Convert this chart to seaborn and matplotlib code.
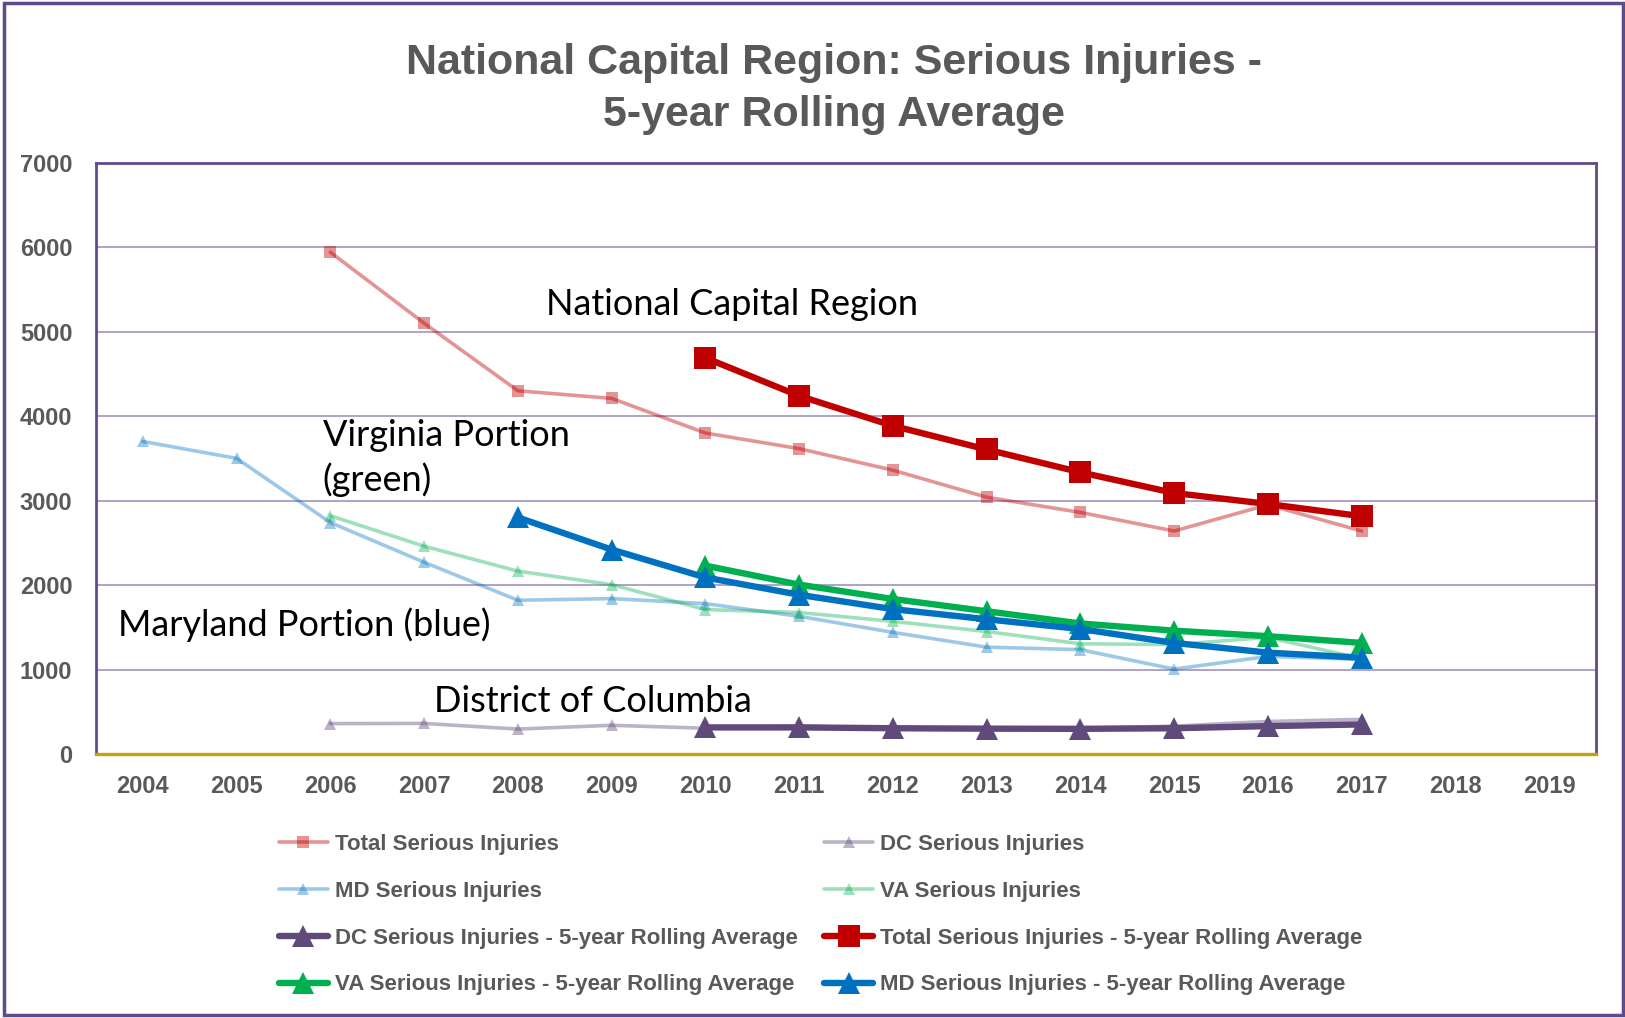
import matplotlib
matplotlib.use("Agg")
import matplotlib.pyplot as plt
import seaborn as sns
import pandas as pd
from matplotlib.patches import Rectangle

# ---------------- data ----------------
year_ticks = list(range(2004, 2020))
y_ticks = [0, 1000, 2000, 3000, 4000, 5000, 6000, 7000]

years_total_raw = list(range(2006, 2018))
total_raw = [5940, 5100, 4300, 4210, 3800, 3615, 3360, 3040, 2860, 2640, 2950, 2640]

years_md_raw = list(range(2004, 2018))
md_raw = [3700, 3500, 2740, 2270, 1820, 1840, 1780, 1630, 1440, 1265, 1235, 1005, 1155, 1120]

years_va_raw = list(range(2006, 2018))
va_raw = [2820, 2460, 2165, 2005, 1710, 1675, 1570, 1450, 1305, 1295, 1380, 1130]

years_dc_raw = list(range(2006, 2018))
dc_raw = [360, 362, 295, 340, 305, 330, 305, 300, 305, 330, 385, 410]

years_avg = list(range(2010, 2018))
total_avg = [4690, 4240, 3885, 3605, 3335, 3090, 2960, 2815]
va_avg = [2230, 2005, 1835, 1690, 1545, 1460, 1395, 1315]
dc_avg = [315, 315, 305, 300, 298, 305, 330, 350]

years_md_avg = list(range(2008, 2018))
md_avg = [2800, 2420, 2090, 1885, 1715, 1595, 1480, 1315, 1200, 1140]

lbl_total = "Total Serious Injuries"
lbl_dc = "DC Serious Injuries"
lbl_md = "MD Serious Injuries"
lbl_va = "VA Serious Injuries"
lbl_dc_avg = "DC Serious Injuries - 5-year Rolling Average"
lbl_total_avg = "Total Serious Injuries - 5-year Rolling Average"
lbl_va_avg = "VA Serious Injuries - 5-year Rolling Average"
lbl_md_avg = "MD Serious Injuries - 5-year Rolling Average"

title_line1 = "National Capital Region: Serious Injuries -"
title_line2 = "5-year Rolling Average"

ann_ncr = "National Capital Region"
ann_va1 = "Virginia Portion"
ann_va2 = "(green)"
ann_md = "Maryland Portion (blue)"
ann_dc = "District of Columbia"

# ---------------- style ----------------
sns.set_theme(style="white")
plt.rcParams["font.family"] = ["Liberation Sans", "DejaVu Sans"]
TICKFONT = ["Liberation Sans", "DejaVu Sans"]
GRAY = "#595959"
PURPLE = "#5F4B8B"
GRID = "#A99BC0"
GOLD = "#C9A00A"

C_TOTAL = "#C00000"
C_MD = "#0070C0"
C_VA = "#00B050"
C_DC = "#604A7B"

fig = plt.figure(figsize=(16.25, 10.18), dpi=100)
ax = fig.add_axes([96 / 1625, 1 - 754 / 1018, 1500 / 1625, (754 - 162.7) / 1018])

def draw(xs, ys, color, marker, ms, lw, alpha, label, z):
    df = pd.DataFrame({"year": xs, "value": ys})
    sns.lineplot(data=df, x="year", y="value", ax=ax, color=color, marker=marker,
                 markersize=ms, linewidth=lw, alpha=alpha, label=label,
                 markeredgecolor=color, markeredgewidth=0, errorbar=None,
                 zorder=z)

# raw series
draw(years_total_raw, total_raw, C_TOTAL, "s", 9, 2.6, 0.42, lbl_total, 2)
draw(years_dc_raw, dc_raw, C_DC, "^", 9, 2.6, 0.42, lbl_dc, 2)
draw(years_md_raw, md_raw, C_MD, "^", 9, 2.6, 0.38, lbl_md, 2)
draw(years_va_raw, va_raw, C_VA, "^", 9, 2.6, 0.38, lbl_va, 2)
# averages
draw(years_avg, dc_avg, C_DC, "^", 16, 4.6, 1.0, lbl_dc_avg, 3)
draw(years_avg, total_avg, C_TOTAL, "s", 16, 4.6, 1.0, lbl_total_avg, 3)
draw(years_avg, va_avg, C_VA, "^", 16, 4.6, 1.0, lbl_va_avg, 3)
draw(years_md_avg, md_avg, C_MD, "^", 16, 4.6, 1.0, lbl_md_avg, 4)

ax.set_xlim(2003.5, 2019.5)
ax.set_ylim(0, 7000)
ax.set_xticks(year_ticks)
ax.set_xticklabels([str(y) for y in year_ticks])
ax.set_yticks(y_ticks)
ax.set_yticklabels([str(v) for v in y_ticks])
ax.set_xlabel("")
ax.set_ylabel("")
ax.tick_params(axis="both", length=0, labelcolor=GRAY)
ax.tick_params(axis="y", pad=17)
ax.tick_params(axis="x", pad=15)
for lab in ax.get_xticklabels() + ax.get_yticklabels():
    lab.set_family(TICKFONT)
    lab.set_fontsize(17)
    lab.set_fontweight("bold")

ax.yaxis.grid(True, color=GRID, linewidth=1.3)
ax.set_axisbelow(True)
for s in ["left", "top", "right"]:
    ax.spines[s].set_color(PURPLE)
    ax.spines[s].set_linewidth(2.0)
ax.spines["bottom"].set_color(GOLD)
ax.spines["bottom"].set_linewidth(2.4)

# annotations
ann_font = ["Lato", "DejaVu Sans"]
AFS = 26
ax.text(2008.3, 5320, ann_ncr, fontsize=AFS, family=ann_font,
        color="black", va="center", ha="left")
ax.text(2005.92, 3775, ann_va1, fontsize=AFS, family=ann_font,
        color="black", va="center", ha="left")
ax.text(2005.92, 3245, ann_va2, fontsize=AFS, family=ann_font,
        color="black", va="center", ha="left")
ax.text(2003.73, 1535, ann_md, fontsize=AFS, family=ann_font,
        color="black", va="center", ha="left")
ax.text(2007.1, 625, ann_dc, fontsize=AFS, family=ann_font,
        color="black", va="center", ha="left")

# title
fig.text(0.513, 1 - 63 / 1018, title_line1, ha="center", va="center",
         fontsize=31, fontweight="bold", color=GRAY)
fig.text(0.513, 1 - 115 / 1018, title_line2, ha="center", va="center",
         fontsize=31, fontweight="bold", color=GRAY)

# legend
handles, labels = ax.get_legend_handles_labels()
ax.get_legend().remove()
order = [lbl_total, lbl_md, lbl_dc_avg, lbl_va_avg, lbl_dc, lbl_va, lbl_total_avg, lbl_md_avg]
hmap = dict(zip(labels, handles))
leg = fig.legend([hmap[l] for l in order], order, ncol=2, loc="upper left",
                 bbox_to_anchor=(279 / 1625, 1 - 834 / 1018), frameon=False,
                 prop={"family": TICKFONT, "size": 16, "weight": "bold"},
                 handlelength=2.2, handletextpad=0.3, columnspacing=1.2,
                 labelspacing=1.16, borderpad=0, borderaxespad=0)
for t in leg.get_texts():
    t.set_color(GRAY)

# outer frame
fig.patches.append(Rectangle((4 / 1625, 3 / 1018), 1 - 6 / 1625, 1 - 6 / 1018,
                             transform=fig.transFigure, fill=False,
                             edgecolor=PURPLE, linewidth=2.5))

fig.savefig("out.png", dpi=100)
